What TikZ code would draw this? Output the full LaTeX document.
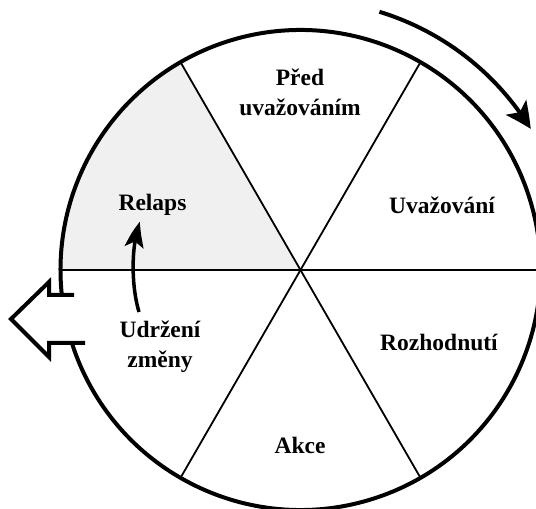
\documentclass[tikz,border=0pt]{standalone}
\usepackage{fontspec}
\setmainfont{Liberation Serif}
\usetikzlibrary{arrows.meta,bending}
\definecolor{relapsgray}{HTML}{F0F0F0}
\begin{document}
\begin{tikzpicture}[x=1pt,y=1pt,
  lbl/.style={font=\bfseries\fontsize{23.5}{30}\selectfont, align=center, inner sep=0pt},
  rim/.style={line width=4pt},
  spoke/.style={line width=1.8pt},
  exitarrow/.style={line width=4pt, line join=miter},
  cyclearrow/.style={line width=4pt, -{Stealth[length=26pt,width=25pt,inset=6pt,bend]}},
  relapsarrow/.style={line width=3.5pt, -{Stealth[length=24pt,width=19pt,inset=5pt,bend]}}
]
\useasboundingbox (0,0) rectangle (536,509);
\clip (0,0) rectangle (536,509);
\coordinate (c) at (300.5,239);
% grey relapse sector
\fill[relapsgray] (c) -- ++(180:240) arc[start angle=180, end angle=120, radius=240] -- cycle;
% spokes
\draw[spoke] (c) ++(0:240) coordinate (e0) -- ++(180:480) coordinate (e180);
\draw[spoke] (c) ++(60:240) coordinate (e60) -- ++(240:480) coordinate (e240);
\draw[spoke] (c) ++(120:240) coordinate (e120) -- ++(300:480) coordinate (e300);
% rim with gap on the left
\draw[rim] (c) ++(197.7:240) coordinate (rimA) arc[start angle=197.7, end angle=546, radius=240] coordinate (rimB);
% exit arrow
\coordinate (x1) at (74,214);
\coordinate (x2) at (85,166);
\draw[exitarrow] (x1) -- (49,214) -- (49,227) -- (11,190) -- (49,152) -- (49,166) -- (x2);
% cycle arrow outside
\draw[cyclearrow] (c) ++(73:270) coordinate (cA) arc[start angle=73, end angle=31.5, radius=270] coordinate (cB);
% relapse arrow
\coordinate (rA) at (139,197);
\coordinate (rB) at (140,287);
\draw[relapsarrow] (rA) .. controls (131,224) and (131,264) .. (rB);
% labels
\node[lbl] (pred) at (300,417) {Před\\uvažováním};
\node[lbl] (relaps) at (152.5,304) {Relaps};
\node[lbl] (uvaz) at (442,304) {Uvažování};
\node[lbl] (udrz) at (160,162) {Udržení\\změny};
\node[lbl] (rozh) at (439,167) {Rozhodnutí};
\node[lbl] (akce) at (300,64) {Akce};
\end{tikzpicture}
\end{document}
